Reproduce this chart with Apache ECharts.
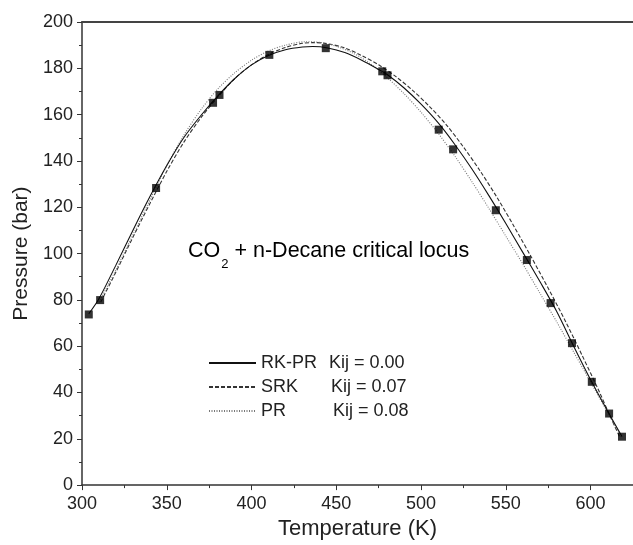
<!DOCTYPE html>
<html>
<head>
<meta charset="utf-8">
<script src="https://cdn.jsdelivr.net/npm/echarts@6/dist/echarts.min.js"></script>
<style>html,body{margin:0;padding:0;background:#fff}#c{width:633px;height:545px}</style>
</head>
<body>
<div id="c"></div>
<script>
// Experimental critical points
const expT = [304.0, 310.7, 343.7, 377.3, 381.1, 410.5, 443.8, 477.1, 480.2, 510.4, 518.9, 544.1, 562.4, 576.4, 589.0, 600.7, 610.9, 618.5];
const expP = [73.7, 79.9, 128.3, 165.1, 168.5, 185.8, 188.7, 178.7, 177.0, 153.5, 145.0, 118.7, 97.2, 78.6, 61.3, 44.6, 30.9, 20.9];

// RK-PR Kij = 0.00 (solid)
const rkprT = [304, 310, 320, 330, 340, 350, 360, 370, 380, 390, 400, 410, 420, 430, 436, 445, 455, 465, 475, 480, 490, 500, 510, 520, 530, 540, 550, 560, 570, 580, 590, 600, 610, 618.5];
const rkprP = [74, 80.5, 95, 110, 124.5, 138, 150, 159.5, 168, 175.5, 181.5, 185.5, 188, 189.2, 189.4, 188.8, 186.8, 183.5, 179.5, 177.3, 171.5, 164.5, 156.5, 147, 136.5, 125, 113, 100.5, 88, 75, 60, 45.5, 32, 21];

// SRK Kij = 0.07 (dashed)
const srkT = [311, 320, 330, 340, 350, 360, 370, 380, 390, 400, 410, 420, 430, 437, 445, 455, 465, 475, 485, 495, 505, 515, 525, 535, 545, 555, 565, 575, 585, 595, 605, 612, 617];
const srkP = [79, 92, 107, 121.5, 135.5, 148, 158.5, 167.5, 175.5, 181.5, 186, 189, 190.8, 191.1, 190.6, 188.8, 185.5, 181.5, 176.5, 170.5, 163.5, 155.5, 146, 135.5, 124, 111.5, 98.5, 85, 71, 56, 40.5, 29, 21];

// PR Kij = 0.08 (dotted)
const prT = [310, 320, 330, 340, 350, 360, 370, 380, 390, 400, 410, 420, 432, 440, 450, 460, 470, 480, 490, 500, 510, 520, 530, 540, 550, 560, 570, 580, 590, 600, 610, 618];
const prP = [79, 93, 108, 123, 138, 151, 162, 171, 178, 183.5, 187.5, 190, 191.5, 191.2, 189.5, 186.5, 182, 176, 169, 161, 152, 142, 131, 119.5, 107.5, 95.5, 83, 70.5, 57.5, 44.5, 31.5, 21];

const seriesNames = ['RK-PR', 'SRK', 'PR'];
const kijLabels = ['Kij = 0.00', 'Kij = 0.07', 'Kij = 0.08'];

const xTicks = [300, 350, 400, 450, 500, 550, 600];
const yTicks = [0, 20, 40, 60, 80, 100, 120, 140, 160, 180, 200];

const zip = (a, b) => a.map((v, i) => [v, b[i]]);
const FONT = '"Liberation Sans", Arial, Helvetica, sans-serif';

const chart = echarts.init(document.getElementById('c'), null, {renderer: 'canvas'});
chart.setOption({
  animation: false,
  backgroundColor: '#fff',
  grid: {left: 82, top: 22, right: 0, bottom: 55, containLabel: false},
  legend: {
    left: 203, top: 349, orient: 'vertical',
    itemWidth: 47, itemHeight: 14, itemGap: 6,
    data: seriesNames,
    itemStyle: {opacity: 0},
    textStyle: {
      fontFamily: FONT, fontSize: 18, color: '#222',
      rich: {
        a0: {fontFamily: FONT, fontSize: 18, color: '#222', width: 68},
        a1: {fontFamily: FONT, fontSize: 18, color: '#222', width: 70},
        a2: {fontFamily: FONT, fontSize: 18, color: '#222', width: 72},
        k: {fontFamily: FONT, fontSize: 18, color: '#222'}
      }
    },
    formatter: function (name) {
      const i = seriesNames.indexOf(name);
      return '{a' + i + '|' + name + '}{k|' + kijLabels[i] + '}';
    }
  },
  xAxis: [{
    type: 'value', min: 300, max: 625, interval: 50,
    name: 'Temperature (K)', nameLocation: 'middle', nameGap: 29,
    nameTextStyle: {fontFamily: FONT, fontSize: 22, color: '#222'},
    axisLine: {show: true, lineStyle: {color: '#333', width: 1.5}},
    axisTick: {show: true, inside: false, length: 5, lineStyle: {color: '#333'}},
    minorTick: {show: true, splitNumber: 2, length: 3, lineStyle: {color: '#333'}},
    axisLabel: {fontFamily: FONT, fontSize: 18, color: '#222', margin: 10, showMaxLabel: false,
      formatter: v => xTicks.includes(v) ? String(v) : ''},
    splitLine: {show: false}
  }, {
    type: 'value', min: 300, max: 625, position: 'top',
    axisLine: {show: true, lineStyle: {color: '#444', width: 2}},
    axisTick: {show: false}, axisLabel: {show: false}, splitLine: {show: false}
  }],
  yAxis: {
    type: 'value', min: 0, max: 200, interval: 20,
    name: 'Pressure (bar)', nameLocation: 'middle', nameGap: 50,
    nameTextStyle: {fontFamily: FONT, fontSize: 21, color: '#222'},
    axisLine: {show: true, lineStyle: {color: '#333', width: 1.5}},
    axisTick: {show: true, inside: false, length: 5, lineStyle: {color: '#333'}},
    minorTick: {show: true, splitNumber: 2, length: 3, lineStyle: {color: '#333'}},
    axisLabel: {fontFamily: FONT, fontSize: 18, color: '#222', margin: 9,
      formatter: v => yTicks.includes(v) ? String(v) : ''},
    splitLine: {show: false}
  },
  graphic: [{
    type: 'text', left: 188, top: 240,
    style: {
      text: '{n|CO}{s|2}{n| + n-Decane critical locus}',
      rich: {
        n: {fontFamily: FONT, fontSize: 21.5, color: '#222', lineHeight: 22, verticalAlign: 'middle'},
        s: {fontFamily: FONT, fontSize: 13, color: '#222', lineHeight: 13, padding: [18, 0, 0, 1], verticalAlign: 'top'}
      }
    }
  }],
  series: [{
    name: seriesNames[0], type: 'line', data: zip(rkprT, rkprP), smooth: 0.3,
    showSymbol: false, symbol: 'none', color: '#111',
    lineStyle: {color: '#111', width: 1.1, type: 'solid'}, z: 3
  }, {
    name: seriesNames[1], type: 'line', data: zip(srkT, srkP), smooth: 0.3,
    showSymbol: false, symbol: 'none', color: '#333',
    lineStyle: {color: '#333', width: 1.1, type: [4, 2]}, z: 2
  }, {
    name: seriesNames[2], type: 'line', data: zip(prT, prP), smooth: 0.3,
    showSymbol: false, symbol: 'none', color: '#777',
    lineStyle: {color: '#777', width: 1.1, type: [1, 1.5]}, z: 2
  }, {
    name: 'Experimental', type: 'scatter', data: zip(expT, expP),
    symbol: 'rect', symbolSize: 8, itemStyle: {color: '#000'}, z: 5
  }]
});
</script>
</body>
</html>
